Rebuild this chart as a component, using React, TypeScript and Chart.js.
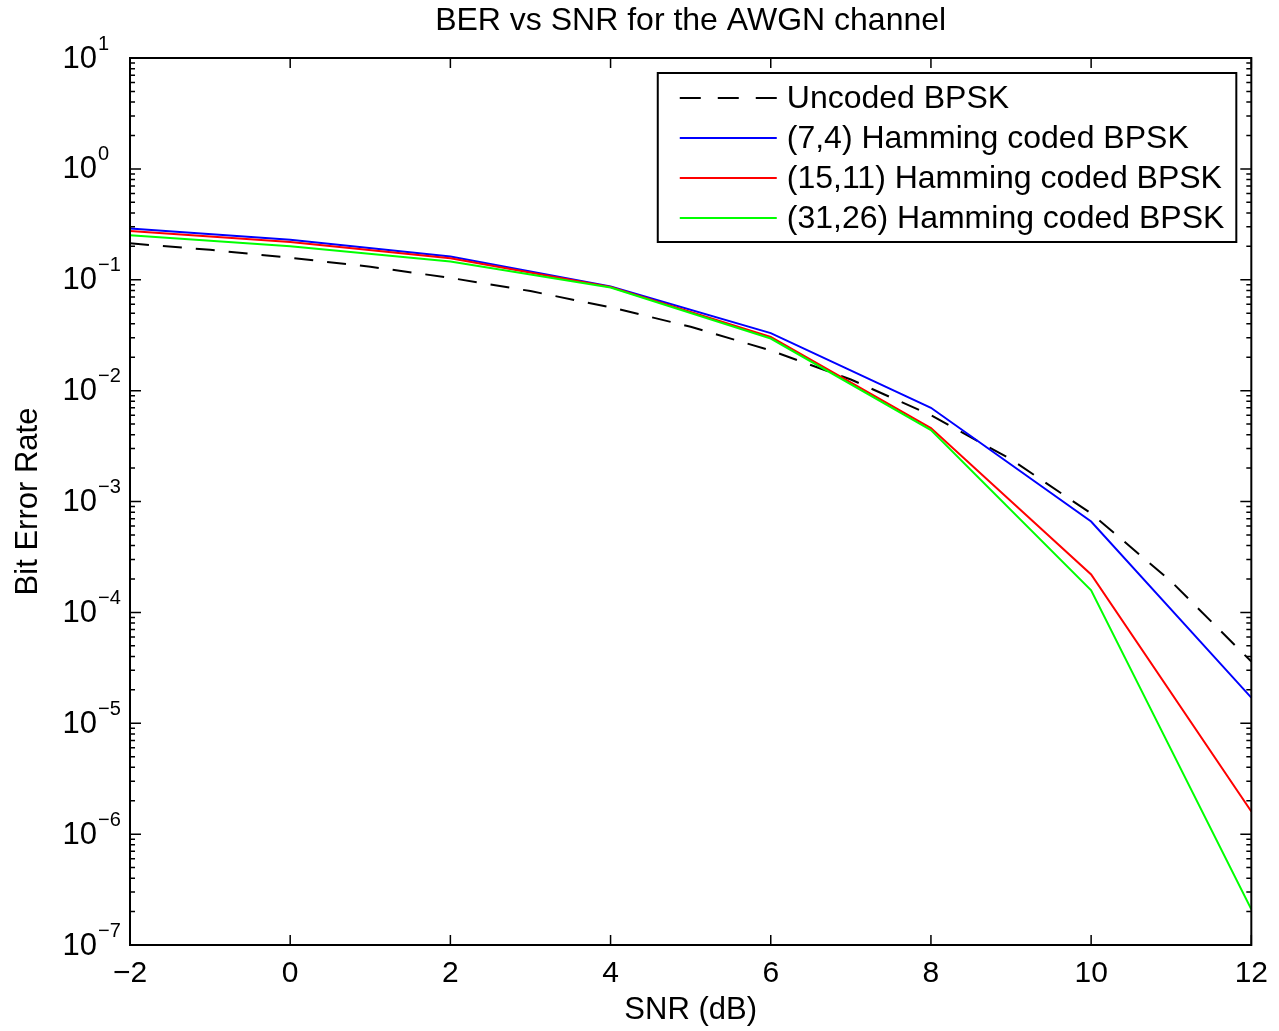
import { useEffect, useRef } from "react";
import { Chart, registerables } from "chart.js";

Chart.register(...registerables);

// ---- data ----
const snrUncoded = [-2, -1, 0, 1, 2, 3, 4, 5, 6, 7, 8, 9, 10, 11, 12];
const berUncoded = [0.213, 0.186, 0.158, 0.131, 0.104, 0.079, 0.0565, 0.0377, 0.023, 0.0126, 0.006, 0.0024, 0.00078, 0.00019, 0.000036];

const snrCoded = [-2, 0, 2, 4, 6, 8, 10, 12];
const berHamming74 = [0.29, 0.229, 0.162, 0.087, 0.033, 0.007, 0.00066, 0.000017];
const berHamming1511 = [0.275, 0.219, 0.156, 0.086, 0.0305, 0.0046, 0.00022, 0.0000016];
const berHamming3126 = [0.252, 0.201, 0.146, 0.085, 0.0295, 0.0044, 0.000158, 0.00000021];

const seriesLabels = [
  "Uncoded BPSK",
  "(7,4) Hamming coded BPSK",
  "(15,11) Hamming coded BPSK",
  "(31,26) Hamming coded BPSK",
];
const seriesColors = ["#000000", "#0000ff", "#ff0000", "#00ff00"];

const xTicks = [-2, 0, 2, 4, 6, 8, 10, 12];
const yExponents = [1, 0, -1, -2, -3, -4, -5, -6, -7];
const minorMultipliers = [2, 3, 4, 5, 6, 7, 8, 9];

const titleText = "BER vs SNR for the AWGN channel";
const xTitle = "SNR (dB)";
const yTitle = "Bit Error Rate";

const FONT = "'Liberation Sans', Arial, Helvetica, sans-serif";
const DASH = [19, 14];

const fmtNeg = (v: number) => (v < 0 ? "\u2212" + Math.abs(v) : String(v));

const matlabPlugin = {
  id: "matlabAxes",
  afterDraw(chart: any) {
    const { ctx, chartArea: ca, scales } = chart;
    const xs = scales.x;
    const ys = scales.y;
    ctx.save();

    // inward ticks
    ctx.strokeStyle = "#000";
    ctx.lineWidth = 1.5;
    ctx.beginPath();
    for (const t of xTicks) {
      const px = xs.getPixelForValue(t);
      ctx.moveTo(px, ca.bottom);
      ctx.lineTo(px, ca.bottom - 10);
      ctx.moveTo(px, ca.top);
      ctx.lineTo(px, ca.top + 10);
    }
    const minExp = Math.min(...yExponents);
    for (const e of yExponents) {
      const py = ys.getPixelForValue(Math.pow(10, e));
      ctx.moveTo(ca.left, py);
      ctx.lineTo(ca.left + 11, py);
      ctx.moveTo(ca.right, py);
      ctx.lineTo(ca.right - 11, py);
      if (e > minExp) {
        for (const m of minorMultipliers) {
          const pm = ys.getPixelForValue(m * Math.pow(10, e - 1));
          ctx.moveTo(ca.left, pm);
          ctx.lineTo(ca.left + 5, pm);
          ctx.moveTo(ca.right, pm);
          ctx.lineTo(ca.right - 5, pm);
        }
      }
    }
    ctx.stroke();

    // axes box
    ctx.lineWidth = 2;
    ctx.strokeRect(ca.left, ca.top, ca.right - ca.left, ca.bottom - ca.top);

    // y tick labels 10^n
    ctx.fillStyle = "#000";
    for (const e of yExponents) {
      const py = ys.getPixelForValue(Math.pow(10, e));
      ctx.font = `31px ${FONT}`;
      ctx.textAlign = "right";
      ctx.textBaseline = "middle";
      ctx.fillText("10", ca.left - 33, py + 1);
      ctx.font = `20px ${FONT}`;
      ctx.textAlign = "left";
      ctx.fillText(fmtNeg(e), ca.left - 32, py - 14);
    }

    // legend
    const rowH = 40;
    const lineLen = 97;
    ctx.font = `32px ${FONT}`;
    let maxW = 0;
    for (const l of seriesLabels) maxW = Math.max(maxW, ctx.measureText(l).width);
    const boxRight = ca.right - 15;
    const boxTop = ca.top + 15;
    const textX = boxRight - 12 - maxW;
    const lineEnd = textX - 10;
    const lineStart = lineEnd - lineLen;
    const boxLeft = lineStart - 22;
    const boxBottom = boxTop + 22 + rowH * seriesLabels.length - 13;
    ctx.fillStyle = "#fff";
    ctx.fillRect(boxLeft, boxTop, boxRight - boxLeft, boxBottom - boxTop);
    ctx.strokeStyle = "#000";
    ctx.lineWidth = 2;
    ctx.strokeRect(boxLeft, boxTop, boxRight - boxLeft, boxBottom - boxTop);
    seriesLabels.forEach((l, i) => {
      const yy = boxTop + 25 + i * rowH;
      ctx.beginPath();
      ctx.strokeStyle = seriesColors[i];
      ctx.lineWidth = 2;
      ctx.setLineDash(i === 0 ? [21, 17] : []);
      ctx.moveTo(lineStart, yy);
      ctx.lineTo(lineEnd, yy);
      ctx.stroke();
      ctx.setLineDash([]);
      ctx.fillStyle = "#000";
      ctx.textAlign = "left";
      ctx.textBaseline = "middle";
      ctx.fillText(l, textX, yy + 1);
    });

    ctx.restore();
  },
};

export default function App() {
  const ref = useRef<HTMLCanvasElement | null>(null);

  useEffect(() => {
    if (!ref.current) return;
    const toPts = (xs: number[], ys: number[]) => xs.map((x, i) => ({ x, y: ys[i] }));
    const chart = new Chart(ref.current, {
      type: "line",
      data: {
        datasets: [
          {
            label: seriesLabels[0],
            data: toPts(snrUncoded, berUncoded),
            borderColor: seriesColors[0],
            borderWidth: 2,
            borderDash: DASH,
            pointRadius: 0,
            tension: 0,
            order: 4,
          },
          {
            label: seriesLabels[1],
            data: toPts(snrCoded, berHamming74),
            borderColor: seriesColors[1],
            borderWidth: 2,
            pointRadius: 0,
            tension: 0,
            order: 3,
          },
          {
            label: seriesLabels[2],
            data: toPts(snrCoded, berHamming1511),
            borderColor: seriesColors[2],
            borderWidth: 2,
            pointRadius: 0,
            tension: 0,
            order: 2,
          },
          {
            label: seriesLabels[3],
            data: toPts(snrCoded, berHamming3126),
            borderColor: seriesColors[3],
            borderWidth: 2,
            pointRadius: 0,
            tension: 0,
            order: 1,
          },
        ],
      },
      options: {
        responsive: false,
        animation: false,
        devicePixelRatio: 1,
        layout: { padding: { left: 0, right: 24, top: 0, bottom: 0 } },
        scales: {
          x: {
            type: "linear",
            min: -2,
            max: 12,
            afterBuildTicks: (s: any) => {
              s.ticks = xTicks.map((v) => ({ value: v }));
            },
            afterFit: (s: any) => {
              s.height = 86;
            },
            ticks: {
              font: { size: 30, family: FONT },
              color: "#000",
              padding: 11,
              maxRotation: 0,
              autoSkip: false,
              callback: (v: any) => fmtNeg(Number(v)),
            },
            grid: { display: false, drawTicks: false },
            border: { display: false },
            title: {
              display: true,
              text: xTitle,
              color: "#000",
              font: { size: 31, family: FONT },
              padding: { top: 0, bottom: 2 },
            },
          },
          y: {
            type: "logarithmic",
            min: 1e-7,
            max: 10,
            afterFit: (s: any) => {
              s.width = 130;
            },
            ticks: { display: false },
            grid: { display: false, drawTicks: false },
            border: { display: false },
            title: {
              display: true,
              text: yTitle,
              color: "#000",
              font: { size: 31, family: FONT },
              padding: { top: 10, bottom: 0 },
            },
          },
        },
        plugins: {
          legend: { display: false },
          tooltip: { enabled: false },
          title: {
            display: true,
            fullSize: false,
            text: titleText,
            color: "#000",
            font: { size: 32, family: FONT, weight: "normal" },
            padding: { top: 2, bottom: 17.6 },
          },
        },
      },
      plugins: [matlabPlugin],
    } as any);
    return () => chart.destroy();
  }, []);

  return (
    <div style={{ position: "fixed", left: 0, top: 0, width: 1279, height: 1031, background: "#fff" }}>
      <canvas ref={ref} width={1279} height={1031} style={{ display: "block", width: 1279, height: 1031 }} />
    </div>
  );
}
